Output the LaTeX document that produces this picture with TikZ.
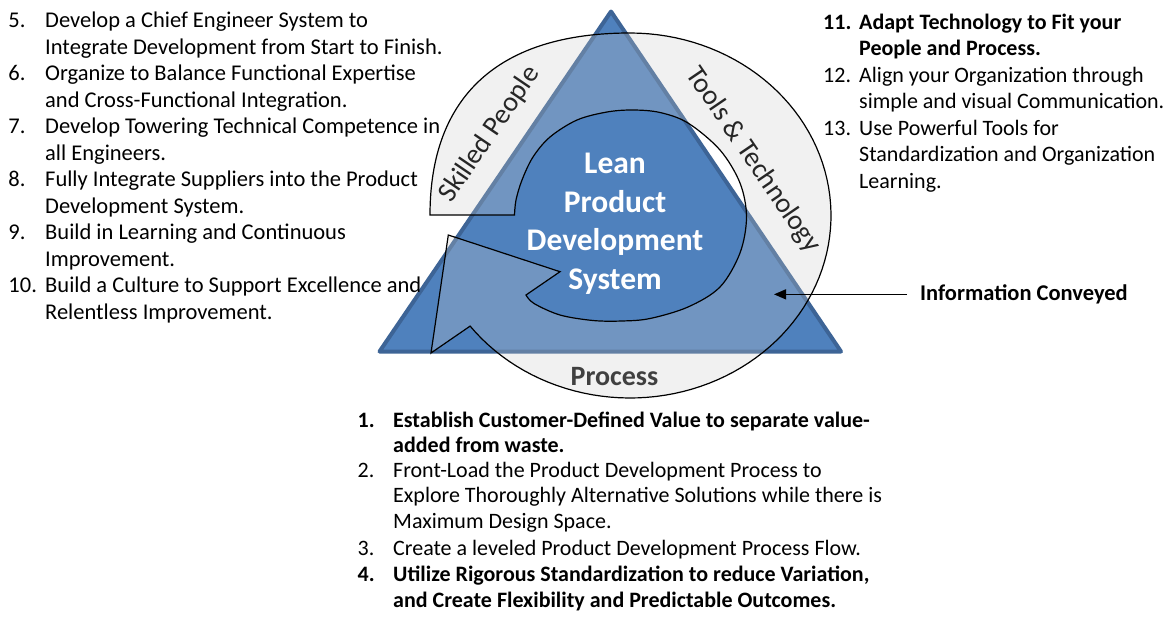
\documentclass[tikz,border=0pt]{standalone}
\usepackage{fontspec}
\setmainfont{Carlito}
\usetikzlibrary{arrows.meta}
\definecolor{triblue}{HTML}{4F81BD}
\definecolor{triedge}{HTML}{3D6496}
\definecolor{bandgray}{HTML}{CDCDCD}
\definecolor{labelgray}{HTML}{262626}
\definecolor{procgray}{HTML}{404040}
\tikzset{
  lst/.style={anchor=base west, inner sep=0pt, font=\fontsize{22.5}{27}\selectfont, text=black},
  lstb/.style={anchor=base west, inner sep=0pt, font=\fontsize{22.5}{27}\selectfont\bfseries, text=black},
  lsts/.style={anchor=base west, inner sep=0pt, font=\fontsize{22}{27}\selectfont, text=black},
  lstsb/.style={anchor=base west, inner sep=0pt, font=\fontsize{22}{27}\selectfont\bfseries, text=black},
  ctr/.style={anchor=base, inner sep=0pt, font=\fontsize{31.5}{38}\selectfont\bfseries, text=white},
  side/.style={anchor=base, inner sep=0pt, font=\fontsize{28}{34}\selectfont, text=labelgray},
  tri/.style={fill=triblue, draw=triedge, line width=4pt, line join=round},
  bandstyle/.style={fill=bandgray, fill opacity=0.27, draw=black, draw opacity=1, line width=1.2pt, line join=miter},
  infoarrow/.style={draw=black, line width=1.2pt, -{Triangle[length=12pt,width=10pt]}}
}
\begin{document}
\begin{tikzpicture}[x=1pt,y=-1pt]
\useasboundingbox (0,0) rectangle (1170,616);
\fill[white] (0,0) rectangle (1170,616);

% triangle
\path[tri] (611,11.5) -- (841,351.5) -- (379.5,351.5) -- cycle;

% circular band arrow
\path[bandstyle] (430,215) .. controls (430,95) and (500,33) .. (630,33)
  -- plot[domain=-90:142.7, samples=90, variable=\t] ({630+201*cos(\t)}, {215.5+182.5*sin(\t)})
  -- (431,353) -- (448.3,235) -- (560,271.7) -- (526,295)
  -- plot[smooth, tension=0.55] coordinates {(526,295) (534,303.5) (560,315) (593,320.5) (622,321) (650,318.5) (688,307) (720,287) (740,253) (746.5,217) (740,183) (720,150) (688,123) (660,112.5) (633,110) (607,112) (577,120) (550,137) (533,157) (522,180) (516,200) (514.5,215)}
  -- cycle;

% centre text
\node[ctr] (c1) at (615,173.5) {Lean};
\node[ctr] (c2) at (615,212) {Product};
\node[ctr] (c3) at (615,250.5) {Development};
\node[ctr] (c4) at (615,289) {System};

% band labels
\node[side, rotate=55.75] (skilled) at (496,138.5) {Skilled People};
\node[side, rotate=-55.75] (tools) at (747,164.3) {Tools \& Technology};
\node[side, font=\fontsize{28}{34}\selectfont\bfseries, text=procgray] (process) at (614.5,385) {Process};

% information conveyed
\node[lstb] (info) at (920,300.5) {Information Conveyed};
\coordinate (infotip) at (774,295);
\draw[infoarrow] ([xshift=-13pt]info.west) -- (info.west -| infotip);

% left list
\node[lst] (n5) at (8.3,27.5) {5.};
\node[lst] (a5) at (45,27.5) {Develop a Chief Engineer System to};
\node[lst] (b5) at (45,54) {Integrate Development from Start to Finish.};
\node[lst] (n6) at (8.3,80.5) {6.};
\node[lst] (a6) at (45,80.5) {Organize to Balance Functional Expertise};
\node[lst] (b6) at (45,107) {and Cross-Functional Integration.};
\node[lst] (n7) at (8.3,133.5) {7.};
\node[lst] (a7) at (45,133.5) {Develop Towering Technical Competence in};
\node[lst] (b7) at (45,160) {all Engineers.};
\node[lst] (n8) at (8.3,186.5) {8.};
\node[lst] (a8) at (45,186.5) {Fully Integrate Suppliers into the Product};
\node[lst] (b8) at (45,213) {Development System.};
\node[lst] (n9) at (8.3,239.5) {9.};
\node[lst] (a9) at (45,239.5) {Build in Learning and Continuous};
\node[lst] (b9) at (45,266) {Improvement.};
\node[lst] (n10) at (8.3,292.5) {10.};
\node[lst] (a10) at (45,292.5) {Build a Culture to Support Excellence and};
\node[lst] (b10) at (45,319) {Relentless Improvement.};

% right list
\node[lstsb] (n11) at (823,29) {11.};
\node[lstsb] (a11) at (859,29) {Adapt Technology to Fit your};
\node[lstsb] (b11) at (859,55.5) {People and Process.};
\node[lsts] (n12) at (823,82) {12.};
\node[lsts] (a12) at (859,82) {Align your Organization through};
\node[lsts] (b12) at (859,108.5) {simple and visual Communication.};
\node[lsts] (n13) at (823,135) {13.};
\node[lsts] (a13) at (859,135) {Use Powerful Tools for};
\node[lsts] (b13) at (859,161.5) {Standardization and Organization};
\node[lsts] (c13) at (859,188) {Learning.};

% bottom list
\node[lstsb] (n1) at (357.5,427) {1.};
\node[lstsb] (a1) at (393,427) {Establish Customer-Defined Value to separate value-};
\node[lstsb] (b1) at (393,452) {added from waste.};
\node[lsts] (n2) at (357.5,477) {2.};
\node[lsts] (a2) at (393,477) {Front-Load the Product Development Process to};
\node[lsts] (b2) at (393,502) {Explore Thoroughly Alternative Solutions while there is};
\node[lsts] (c2b) at (393,528) {Maximum Design Space.};
\node[lsts] (n3) at (357.5,555) {3.};
\node[lsts] (a3) at (393,555) {Create a leveled Product Development Process Flow.};
\node[lstsb] (n4) at (357.5,581.5) {4.};
\node[lstsb] (a4) at (393,581.5) {Utilize Rigorous Standardization to reduce Variation,};
\node[lstsb] (b4) at (393,607) {and Create Flexibility and Predictable Outcomes.};
\end{tikzpicture}
\end{document}
